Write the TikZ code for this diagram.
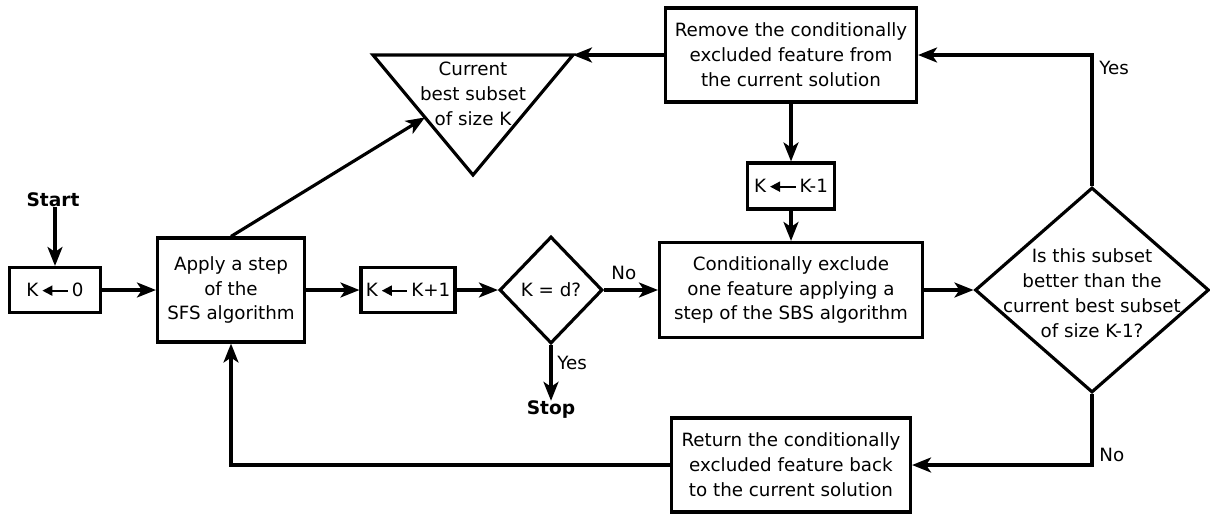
\documentclass[tikz,border=0pt]{standalone}
\usepackage{fontspec}
\setmainfont{DejaVu Sans}
\usetikzlibrary{arrows.meta,shapes.geometric,calc}
\newcommand{\larr}{\tikz[baseline=-0.6ex]\draw[line width=1.1pt,{Triangle[length=0.55em,width=0.55em]}-] (0pt,0pt) -- (1.4em,0pt);}
\begin{document}
\begin{tikzpicture}[x=0.02cm,y=-0.02cm,
  every node/.style={font=\fontsize{10.4}{14.2}\selectfont, align=center, inner sep=0pt},
  box/.style={draw, line width=1.8pt, rectangle},
  dia/.style={draw, line width=1.8pt, diamond, aspect=1},
  lbl/.style={anchor=west},
  conn/.style={line width=1.8pt, -{Stealth[length=0.38cm,width=0.3cm,inset=0.1cm]}},
  plain/.style={line width=1.8pt}]
\useasboundingbox (0,0) rectangle (1210,514);

\node[font=\fontsize{10.6}{14}\selectfont\bfseries] (start) at (53,200) {Start};
\node[box, minimum width=1.82cm, minimum height=0.9cm] (k0) at (55,290) {K\,\larr\,0};
\node[box, minimum width=2.94cm, minimum height=2.08cm] (sfs) at (231,290) {Apply a step\\of the\\SFS algorithm};
\node[box, minimum width=1.88cm, minimum height=0.9cm] (kp1) at (408,290) {K\,\larr\,K+1};
\node[dia, minimum width=2.06cm, minimum height=2.14cm] (kd) at (551,290) {K = d?};
\node[font=\fontsize{10.6}{14}\selectfont\bfseries] (stop) at (551,410) {Stop};
\node[box, minimum width=5.26cm, minimum height=1.9cm] (cond) at (791,290) {Conditionally exclude\\one feature applying a\\step of the SBS algorithm};
\node[box, minimum width=1.74cm, minimum height=0.92cm] (km1) at (791,186) {K\,\larr\,K-1};
\node[box, minimum width=5.02cm, minimum height=1.88cm] (remove) at (791,55) {Remove the conditionally\\excluded feature from\\the current solution};
\node[box, minimum width=4.78cm, minimum height=1.88cm] (ret) at (791,465) {Return the conditionally\\excluded feature back\\to the current solution};
\node[dia, minimum width=4.68cm, minimum height=4.1cm] (big) at (1092,290) {};
\node (bigtxt) at (1092,293) {Is this subset\\better than the\\current best subset\\of size K-1?};

% triangle
\coordinate (tl) at (373,55);
\coordinate (tr) at (573,55);
\coordinate (tb) at (473,175);
\draw[plain, line join=miter] (tl) -- (tr) -- (tb) -- cycle;
\node (tri) at (473,94) {Current\\best subset\\of size K};
\coordinate (trin) at ($(tl)!0.52!(tb)$);

% connectors
\draw[conn] (start.south -| k0.north) -- (k0.north);
\draw[conn] (k0) -- (sfs);
\draw[conn] (sfs) -- (kp1);
\draw[conn] (kp1) -- (kd);
\draw[conn] (kd.south) -- (stop);
\draw[conn] (kd.east) -- (cond.west);
\draw[conn] (cond) -- (big.west);
\draw[conn] (remove) -- (km1);
\draw[conn] (km1) -- (cond);
\draw[conn] (sfs.north) -- (trin);
\draw[conn] (remove.west) -- (tr);
\draw[conn] (big.north) |- (remove.east);
\draw[conn] (big.south) |- (ret.east);
\draw[conn] (ret.west) -| (sfs.south);

\node[lbl] (yes1) at (557,363) {Yes};
\node[lbl] (no1) at (611,273) {No};
\node[lbl] (yes2) at (1099,68) {Yes};
\node[lbl] (no2) at (1099,455) {No};
\end{tikzpicture}
\end{document}
